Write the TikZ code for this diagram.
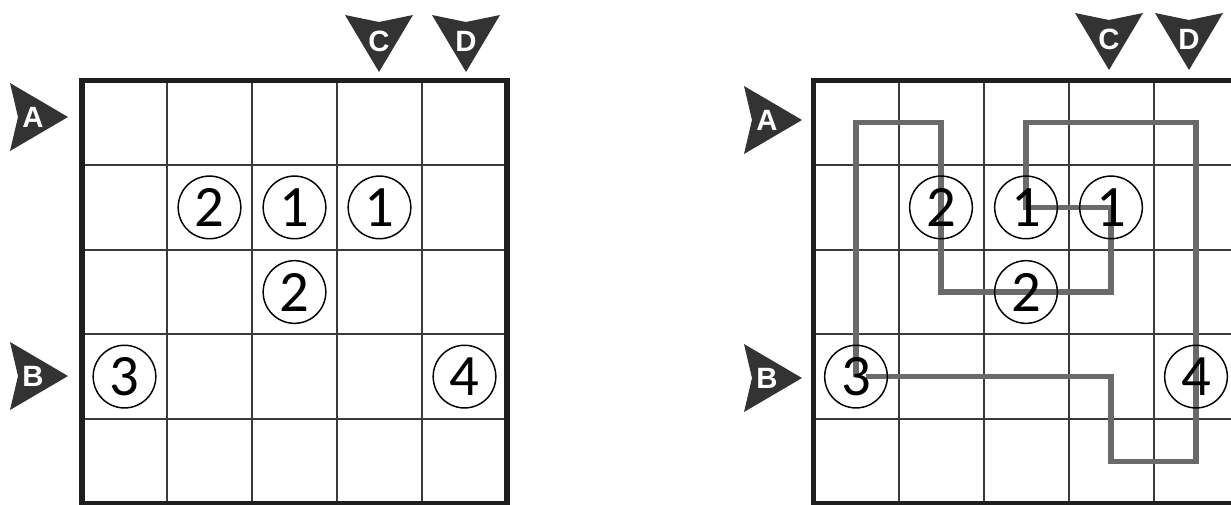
\documentclass[tikz,border=0pt]{standalone}
\usepackage{fontspec}
\setmainfont{Carlito}
\newfontfamily\markfont{Liberation Sans}
\usetikzlibrary{positioning,calc}
\definecolor{ink}{HTML}{1E1E1E}
\definecolor{rule}{HTML}{3A3A3A}
\definecolor{dart}{HTML}{333333}
\definecolor{route}{HTML}{6A6A6A}

\begin{document}
\begin{tikzpicture}[
 x=0.75pt,y=-0.75pt,
 cellline/.style={draw=rule,line width=1.5pt},
 border/.style={draw=ink,line width=3.8pt},
 clue/.style={circle,draw=black,line width=1.1pt,minimum size=47pt,inner sep=0pt,font=\fontsize{44}{44}\selectfont},
 tag/.style={text=white,inner sep=0pt,font=\markfont\bfseries\fontsize{22}{22}\selectfont},
 route/.style={draw=route,line width=3.8pt,line join=miter}
]
\useasboundingbox (0,0) rectangle (1231,504);
\clip (0,0) rectangle (1231,504);

% grid lines and cell centres, left puzzle then right puzzle
\foreach \g/\gx in {l/82,r/813.5}{
  \foreach \i in {1,...,4}{
    \draw[cellline] ({\gx+85*\i},80.5) -- ({\gx+85*\i},503.5);
    \draw[cellline] (\gx,{80.5+84.6*\i}) -- ({\gx+425},{80.5+84.6*\i});
  }
  \foreach \c in {1,...,5}
    \foreach \r in {1,...,5}
      \coordinate (\g-\c-\r) at ({\gx+85*\c-42.5},{80.5+84.6*\r-42.3});
}

% solution loop
\draw[route] ([xshift=7.5pt]r-1-4) -- (r-4-4) -- (r-4-5) -- (r-5-5) -- (r-5-1)
  -- (r-3-1) -- (r-3-2) -- (r-4-2) -- (r-4-3) -- (r-2-3) -- (r-2-1) -- (r-1-1) -- (r-1-4);

% circled clues
\foreach \g in {l,r}{
  \node[clue] (\g c22) at (\g-2-2) {2};
  \node[clue] (\g c32) at (\g-3-2) {1};
  \node[clue] (\g c42) at (\g-4-2) {1};
  \node[clue] (\g c33) at (\g-3-3) {2};
  \node[clue] (\g c14) at (\g-1-4) {3};
  \node[clue] (\g c54) at (\g-5-4) {4};
}

\draw[border] (82,80.5) rectangle (507,503.5);
\draw[border] (813.5,80.5) rectangle (1238.5,503.5);

% entry markers
\foreach \nm/\tx/\ty/\lt in {lA/68/117/A, lB/68/376/B, rA/802/120/A, rB/802/378/B}{
  \fill[dart] (\tx,\ty) -- ++(-58,-34) -- ++(8,34) -- ++(-8,34) -- cycle;
  \node[tag] (\nm) at ({\tx-35},\ty) {\lt};
}
\foreach \nm/\tx/\ty/\lt in {lC/379/72/C, lD/466/72/D, rC/1109/70/C, rD/1189/70/D}{
  \fill[dart] (\tx,\ty) -- ++(-34,-57) -- ++(34,7) -- ++(34,-7) -- cycle;
  \node[tag] (\nm) at (\tx,{\ty-31}) {\lt};
}
\end{tikzpicture}
\end{document}
